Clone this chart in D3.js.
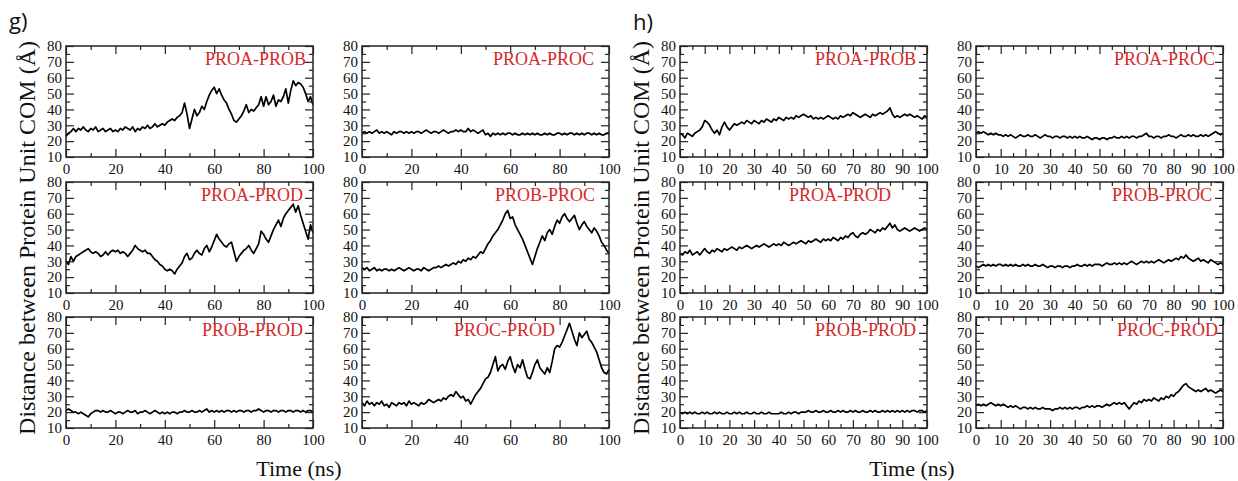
<!DOCTYPE html>
<html>
<head>
<meta charset="utf-8">
<script src="https://cdn.jsdelivr.net/npm/d3@7"></script>
<style>
  body { margin: 0; background: #fff; }
  svg { display: block; }
</style>
</head>
<body>
<svg id="chart" width="1238" height="481"></svg>
<script>
// time axis, sampled every 1 ns
var time = d3.range(0, 101);

// g) distances (A)
var g_proaProb = [23,25,26,28,26,28,27,29,27,26, 28,27,29,26,27,28,26,27,28,26, 27,26,28,27,29,28,27,29,26,28, 27,29,28,30,28,29,31,29,30,31,
  30,32,33,34,33,35,36,38,44,37, 28,34,40,36,38,42,40,45,49,52, 54,50,53,49,46,44,40,37,33,32, 34,36,39,43,38,40,39,41,43,48,
  42,48,43,45,49,42,46,45,48,53, 44,52,58,55,57,56,54,50,45,48, 43];
var g_proaProc = [25,26,25,26,25,26,27,25,26,25, 26,25,24,26,25,26,26,25,26,25, 26,25,26,26,25,26,27,26,25,26, 26,25,26,27,26,25,26,26,27,26,
  27,26,26,28,26,27,26,25,26,27, 24,25,23,25,24,25,24,25,24,25, 25,24,25,24,24,25,24,25,24,25, 24,25,24,24,25,24,25,24,24,25,
  25,24,25,24,25,25,24,25,24,25, 24,25,25,24,25,24,25,24,24,25, 25];
var g_proaProd = [30,28,33,30,33,34,35,36,37,38, 36,35,36,35,33,34,36,34,36,37, 36,37,35,36,35,33,35,37,40,38, 37,36,37,35,35,33,31,30,28,27,
  25,24,25,24,22,25,27,29,33,35, 31,32,35,37,35,34,38,40,36,39, 43,47,44,42,40,39,41,42,36,30, 33,35,37,38,40,37,35,38,41,49,
  47,44,42,46,50,53,56,52,57,60, 62,64,66,61,65,59,54,49,44,53, 48];
var g_probProc = [26,25,26,24,25,26,24,25,24,25, 25,24,25,24,25,26,25,24,25,26, 25,24,25,25,24,26,25,24,25,26, 26,27,26,27,28,27,28,29,28,30,
  29,31,30,32,31,33,32,34,36,35, 38,41,43,46,48,50,53,56,60,62, 57,58,53,50,47,44,40,36,32,28, 33,38,42,46,43,48,50,47,52,56,
  54,58,60,57,55,57,59,54,50,53, 55,52,50,48,51,49,46,42,40,37, 35];
var g_probProd = [21,22,21,20,20,19,20,19,18,17, 19,20,21,21,20,21,20,20,21,20, 19,20,20,19,20,21,20,20,21,19, 20,20,21,20,19,20,21,20,19,20,
  19,20,19,20,20,19,20,20,21,20, 20,21,20,20,21,20,21,22,20,21, 20,21,20,21,20,21,21,20,21,20, 21,21,20,21,21,20,21,21,22,21,
  20,21,21,20,21,21,20,21,21,20, 21,21,20,21,21,20,21,20,21,21, 20];
var g_procProd = [26,24,27,25,26,24,26,25,27,24, 25,23,26,25,24,26,25,26,24,27, 25,26,25,24,26,25,26,28,27,26, 27,28,27,29,28,30,31,30,33,31,
  29,30,27,28,25,28,31,33,35,38, 41,42,45,50,55,46,49,50,47,52, 55,49,45,50,48,53,47,42,41,45, 50,53,48,46,44,48,45,52,60,62,
  61,64,68,72,76,71,66,62,70,67, 69,71,66,64,61,58,53,48,45,44, 47];

// h) distances (A)
var h_proaProb = [25,24,22,25,24,23,25,26,27,29, 33,32,30,27,25,27,24,29,32,29, 27,29,31,30,31,32,31,33,32,31, 33,32,31,33,32,34,33,32,34,33,
  35,34,33,35,34,35,34,36,35,36, 37,36,35,36,34,35,34,35,34,35, 36,35,34,35,34,36,35,36,37,36, 38,37,36,35,36,37,36,35,37,36,
  37,38,37,38,39,41,37,35,36,35, 36,37,36,37,36,35,36,35,34,36, 35];
var h_proaProc = [25,26,25,26,25,24,25,24,25,24, 24,23,24,23,24,23,22,23,24,23, 23,24,23,23,24,23,22,23,24,23, 23,22,23,23,22,23,23,22,23,22,
  23,22,23,22,22,23,22,21,22,22, 21,22,22,21,22,22,23,22,22,23, 22,23,22,23,23,22,23,23,24,25, 23,23,22,23,23,22,23,23,24,23,
  23,22,23,24,23,23,24,23,24,23, 23,24,23,24,23,24,25,26,25,24, 25];
var h_proaProd = [35,34,36,35,37,34,35,36,34,36, 38,36,35,37,36,38,37,36,38,37, 38,39,38,37,39,38,39,40,39,38, 39,40,39,40,41,40,39,40,41,40,
  41,40,42,41,40,41,42,41,42,43, 42,41,43,42,43,44,43,42,44,43, 44,43,45,44,43,45,44,46,45,47, 48,46,45,47,48,47,48,50,49,48,
  50,49,51,50,52,54,51,53,50,49, 50,51,50,49,50,51,50,49,50,51, 50];
var h_probProc = [27,26,27,28,27,28,27,28,27,28, 28,27,28,27,28,27,28,27,27,28, 27,28,27,27,28,27,27,28,27,26, 27,27,26,27,27,26,27,27,26,27,
  27,28,27,27,28,27,28,27,28,28, 28,27,28,29,28,28,29,28,29,28, 29,28,29,30,29,28,29,30,29,30, 29,30,29,30,31,30,29,30,31,30,
  31,32,31,33,32,34,32,31,30,31, 32,30,31,30,29,31,30,29,28,29, 28];
var h_probProd = [20,19,20,19,20,19,20,19,19,20, 19,20,19,19,20,19,20,19,19,20, 19,19,20,19,20,19,19,20,19,19, 20,19,19,20,19,19,20,19,19,19,
  19,20,19,19,20,19,20,20,19,20, 20,20,21,20,20,21,20,20,21,20, 20,21,20,20,21,20,21,20,20,21, 20,21,20,20,21,20,20,21,20,21,
  20,20,21,20,21,20,21,20,21,20, 21,20,21,20,21,21,20,21,21,20, 21];
var h_procProd = [24,25,24,25,24,25,26,25,24,25, 24,25,24,23,24,23,24,23,22,23, 23,22,23,22,23,22,22,23,22,22, 22,21,22,22,23,22,23,22,23,22,
  23,23,22,23,23,24,23,24,23,24, 24,23,24,25,24,25,26,25,26,25, 26,24,22,24,26,25,27,26,28,27, 28,27,29,28,27,29,28,30,29,31,
  30,32,33,35,37,38,36,35,34,33, 34,33,34,35,33,34,33,32,33,34, 33];

// ticks
var yTicks = [10, 20, 30, 40, 50, 60, 70, 80];
var yMinor = [15, 25, 35, 45, 55, 65, 75];
var xTicksG = [0, 20, 40, 60, 80, 100];
var xMinorG = [10, 30, 50, 70, 90];
var xTicksH = [0, 10, 20, 30, 40, 50, 60, 70, 80, 90, 100];
var xMinorH = [5, 15, 25, 35, 45, 55, 65, 75, 85, 95];

// layout
var W = 247, H = 111;
var rowTop = [46, 182, 317];
var colLeft = { g: [66, 362], h: [680, 976] };
var xTicksFor = { g: [xTicksG, xMinorG], h: [xTicksH, xMinorH] };

var panels = [
  { fig: "g", row: 0, col: 0, name: "PROA-PROB", values: g_proaProb, labelInset: 7 },
  { fig: "g", row: 0, col: 1, name: "PROA-PROC", values: g_proaProc, labelInset: 15 },
  { fig: "g", row: 1, col: 0, name: "PROA-PROD", values: g_proaProd, labelInset: 10 },
  { fig: "g", row: 1, col: 1, name: "PROB-PROC", values: g_probProc, labelInset: 14 },
  { fig: "g", row: 2, col: 0, name: "PROB-PROD", values: g_probProd, labelInset: 10 },
  { fig: "g", row: 2, col: 1, name: "PROC-PROD", values: g_procProd, labelInset: 54 },
  { fig: "h", row: 0, col: 0, name: "PROA-PROB", values: h_proaProb, labelInset: 11 },
  { fig: "h", row: 0, col: 1, name: "PROA-PROC", values: h_proaProc, labelInset: 8 },
  { fig: "h", row: 1, col: 0, name: "PROA-PROD", values: h_proaProd, labelInset: 36 },
  { fig: "h", row: 1, col: 1, name: "PROB-PROC", values: h_probProc, labelInset: 11 },
  { fig: "h", row: 2, col: 0, name: "PROB-PROD", values: h_probProd, labelInset: 11 },
  { fig: "h", row: 2, col: 1, name: "PROC-PROD", values: h_procProd, labelInset: 5 }
];

var serif = "'Liberation Serif', 'Times New Roman', serif";
var svg = d3.select("#chart");

var x = d3.scaleLinear().domain([0, 100]).range([0, W]);
var y = d3.scaleLinear().domain([10, 80]).range([H, 0]);

var line = d3.line()
  .x(function(d, i) { return x(time[i]); })
  .y(function(d) { return y(d); });

function styleAxis(sel, showText) {
  sel.attr("font-family", null);
  sel.select(".domain").remove();
  sel.selectAll(".tick line").attr("stroke", "#222").attr("stroke-width", 1.2);
  if (!showText) sel.selectAll(".tick text").remove();
  else sel.selectAll(".tick text")
    .style("font-family", serif)
    .style("font-size", "15px")
    .attr("fill", "#111");
}

panels.forEach(function(p) {
  var ticks = xTicksFor[p.fig];
  var g = svg.append("g")
    .attr("transform", "translate(" + colLeft[p.fig][p.col] + "," + rowTop[p.row] + ")");

  // bottom (labelled) + top
  g.append("g").attr("transform", "translate(0," + H + ")")
    .call(d3.axisBottom(x).tickValues(ticks[0]).tickSize(-8).tickPadding(6).tickFormat(d3.format("d")))
    .call(styleAxis, true);
  g.append("g").attr("transform", "translate(0," + H + ")")
    .call(d3.axisBottom(x).tickValues(ticks[1]).tickSize(-4))
    .call(styleAxis, false);
  g.append("g")
    .call(d3.axisTop(x).tickValues(ticks[0]).tickSize(-8))
    .call(styleAxis, false);
  g.append("g")
    .call(d3.axisTop(x).tickValues(ticks[1]).tickSize(-4))
    .call(styleAxis, false);

  // left (labelled) + right
  g.append("g")
    .call(d3.axisLeft(y).tickValues(yTicks).tickSize(-8).tickPadding(4).tickFormat(d3.format("d")))
    .call(styleAxis, true);
  g.append("g")
    .call(d3.axisLeft(y).tickValues(yMinor).tickSize(-4))
    .call(styleAxis, false);
  g.append("g").attr("transform", "translate(" + W + ",0)")
    .call(d3.axisRight(y).tickValues(yTicks).tickSize(-8))
    .call(styleAxis, false);
  g.append("g").attr("transform", "translate(" + W + ",0)")
    .call(d3.axisRight(y).tickValues(yMinor).tickSize(-4))
    .call(styleAxis, false);

  g.append("path")
    .datum(p.values)
    .attr("d", line)
    .attr("fill", "none")
    .attr("stroke", "#000")
    .attr("stroke-width", 1.7)
    .attr("stroke-linejoin", "round");

  g.append("rect")
    .attr("width", W)
    .attr("height", H)
    .attr("fill", "none")
    .attr("stroke", "#222")
    .attr("stroke-width", 1.5);

  g.append("text")
    .attr("x", W - p.labelInset)
    .attr("y", 19)
    .attr("text-anchor", "end")
    .style("font-family", serif)
    .style("font-size", "18px")
    .attr("fill", "#d42a2a")
    .text(p.name);
});

// figure letters
[["g)", 9, 29], ["h)", 633, 30]].forEach(function(t) {
  svg.append("text").attr("x", t[1]).attr("y", t[2])
    .style("font-family", "'Open Sans', 'DejaVu Sans', sans-serif")
    .style("font-size", "22px")
    .attr("fill", "#111")
    .text(t[0]);
});

// axis titles
[[35, 299], [649, 912]].forEach(function(c) {
  svg.append("text")
    .attr("transform", "translate(" + c[0] + ",238) rotate(-90)")
    .attr("text-anchor", "middle")
    .style("font-family", serif)
    .style("font-size", "24px")
    .attr("fill", "#111")
    .text("Distance between Protein Unit COM (\u00c5)");
  svg.append("text")
    .attr("x", c[1])
    .attr("y", 476)
    .attr("text-anchor", "middle")
    .style("font-family", serif)
    .style("font-size", "22px")
    .attr("fill", "#111")
    .text("Time (ns)");
});
</script>
</body>
</html>
